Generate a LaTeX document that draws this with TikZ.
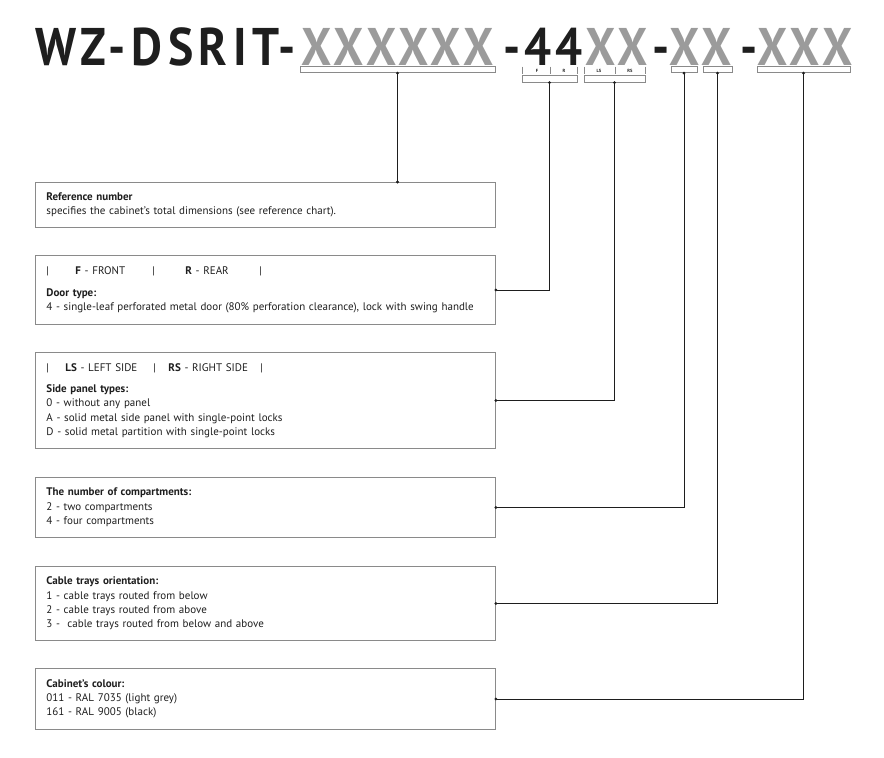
\documentclass[tikz,border=0pt]{standalone}
\usepackage{fontspec}
\setmainfont{PT Sans}
\newfontfamily\titlefont[LetterSpace=7.5,FakeStretch=0.9]{PT Sans}
\usetikzlibrary{positioning,arrows.meta}
\definecolor{xgrey}{HTML}{9B9B9B}
\definecolor{boxgrey}{HTML}{8A8A8A}
\definecolor{inkblack}{HTML}{1E1E1E}

\begin{document}
\begin{tikzpicture}[x=1pt,y=-1pt,
  title/.style={anchor=base west, inner sep=0, text=inkblack,
                font=\titlefont\bfseries\fontsize{53}{53}\selectfont},
  codex/.style={title, text=xgrey},
  bracket/.style={draw=boxgrey, line width=0.8, inner sep=0, minimum height=6.5},
  tick/.style={draw=boxgrey, line width=0.6},
  ticklabel/.style={inner sep=0, font=\bfseries\fontsize{4.5}{4.5}\selectfont, text=inkblack},
  infobox/.style={draw=boxgrey, line width=0.9, anchor=north west, minimum height=#1,
                  text width=438, inner xsep=11, align=left, text=inkblack,
                  font=\fontsize{11}{14.3}\selectfont},
  link/.style={{Circle[length=2.8pt]}-{Circle[length=2.8pt]}, draw=inkblack, line width=0.7,
               shorten <=-1.4pt, shorten >=-1.4pt}
]
\useasboundingbox (0,0) rectangle (884,758);

% Code line
\node[title] (tPre)   at (35,65)  {\addfontfeature{LetterSpace=10.5}WZ-DSRIT-};
\node[codex] (tRef)   at (301,65) {XXXXXX};
\node[title] (tDoor)  at (503,65) {-44};
\node[codex] (tSide)  at (585,65) {XX};
\node[title] (tDashA) at (652,65) {-};
\node[codex] (tComp)  at (669,65) {XX};
\node[title] (tDashB) at (740,65) {-};
\node[codex] (tCol)   at (757,65) {XXX};

% Brackets under the code
\node[bracket, minimum width=195] (brRef)    at (397.5,69.5) {};
\node[bracket, minimum width=55]  (brDoor)   at (549.5,79)   {};
\node[bracket, minimum width=61]  (brSide)   at (614.5,79)   {};
\node[bracket, minimum width=26]  (brComp)   at (684,69.5)   {};
\node[bracket, minimum width=29]  (brTray)   at (717.5,69.5) {};
\node[bracket, minimum width=93]  (brColour) at (803.5,69.5) {};

% F / R and LS / RS marks
\foreach \x in {522,550,577,584,615,645}
  \draw[tick] (\x,66.5) -- (\x,73.5);
\node[ticklabel] (lF)  at (537,70.5) {F};
\node[ticklabel] (lR)  at (564,70.5) {R};
\node[ticklabel] (lLS) at (599,70.5) {LS};
\node[ticklabel] (lRS) at (630,70.5) {RS};

% Description boxes
\node[infobox=45] (refbox) at (35,182)
  {\textbf{Reference number}\\
   specifies the cabinet’s total dimensions (see reference chart).};
\node[infobox=69] (doorbox) at (35,255)
  {\makebox[29pt][l]{|}\makebox[77pt][l]{\textbf{F} - FRONT}\makebox[33pt][l]{|}\makebox[74pt][l]{\textbf{R} - REAR}|\\[7pt]
   \textbf{Door type:}\\
   4 - single-leaf perforated metal door (80\% perforation clearance), lock with swing handle};
\node[infobox=96] (sidebox) at (35,352)
  {\makebox[19pt][l]{|}\makebox[88pt][l]{\textbf{LS} - LEFT SIDE}\makebox[15pt][l]{|}\makebox[92pt][l]{\textbf{RS} - RIGHT SIDE}|\\[7pt]
   \textbf{Side panel types:}\\
   0 - without any panel\\
   A - solid metal side panel with single-point locks\\
   D - solid metal partition with single-point locks};
\node[infobox=60] (compbox) at (35,477)
  {\textbf{The number of compartments:}\\
   2 - two compartments\\
   4 - four compartments};
\node[infobox=74] (traybox) at (35,566)
  {\textbf{Cable trays orientation:}\\
   1 - cable trays routed from below\\
   2 - cable trays routed from above\\
   3 - \ cable trays routed from below and above};
\node[infobox=61] (colourbox) at (35,668)
  {\textbf{Cabinet's colour:}\\
   011 - RAL 7035 (light grey)\\
   161 - RAL 9005 (black)};

% Connectors
\draw[link] (brRef.south) -- (brRef.south |- refbox.north);
\draw[link] (brDoor.south) |- (doorbox.east);
\draw[link] (brSide.south) |- (sidebox.east);
\draw[link] (brComp.south) |- (compbox.east);
\draw[link] (brTray.south) |- (traybox.east);
\draw[link] (brColour.south) |- (colourbox.east);
\end{tikzpicture}
\end{document}
